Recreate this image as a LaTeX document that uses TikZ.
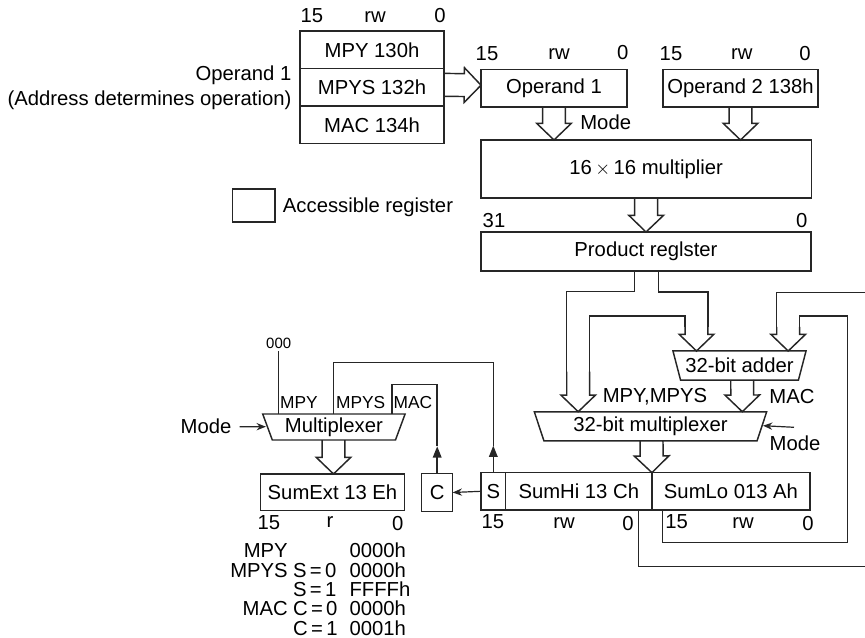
\documentclass[tikz,border=0pt]{standalone}
\usepackage{fontspec}
\setmainfont{Liberation Sans}
\usetikzlibrary{arrows.meta,calc,shapes.geometric}
\newcommand{\busarrow}[2]{%
  \coordinate (bs) at (#1);
  \coordinate (be) at (#2);
  \coordinate (bh) at ($(be)!12.5pt!(bs)$);
  \draw[wire] ($(bs)!8.6pt!90:(be)$) -- ($(bh)!8.6pt!-90:(bs)$) -- ($(bh)!13pt!-90:(bs)$) -- (be)
    -- ($(bh)!13pt!90:(bs)$) -- ($(bh)!8.6pt!90:(bs)$) -- ($(bs)!8.6pt!-90:(be)$);
}
\begin{document}
\begin{tikzpicture}[
  x=0.75pt, y=-0.75pt,
  font=\fontsize{15.2}{17}\selectfont,
  wire/.style={draw=black!85, line width=1.1pt},
  reg/.style={draw=black!85, line width=1.1pt, inner sep=0pt, outer sep=0pt, minimum height=28.1pt},
  tag/.style={inner sep=0pt},
  mpxr/.style={trapezium, shape border rotate=180, draw=black!85, line width=1.1pt, inner sep=0pt, outer sep=0pt,
               trapezium stretches body=true, trapezium left angle=63, trapezium right angle=63, minimum height=21.8pt},
  uparrow/.style={wire, -{Triangle[length=8.5pt,width=6.5pt]}},
  modearrow/.style={wire, line width=0.9pt, -{Stealth[length=7pt,width=5.5pt]}}
]
\useasboundingbox (0,0) rectangle (865,638);
\node[reg, minimum width=108pt] (mpy) at (372,49.9) {MPY 130h};
\node[reg, minimum width=108pt] (mpys) at (372,87.4) {MPYS 132h};
\node[reg, minimum width=108pt] (mac) at (372,125) {MAC 134h};
\node[tag] (t1) at (312,16) {15};
\node[tag] (t2) at (375,17) {rw};
\node[tag] (t3) at (440,16) {0};
\node[tag, align=right, anchor=east, font=\fontsize{15.2}{19}\selectfont] (opnote) at (291.7,88) {Operand 1\\(Address determines operation)};
\node[reg, minimum width=109.5pt] (op1) at (554,88.2) {Operand 1};
\node[tag] (t4) at (487,54) {15};
\node[tag] (t5) at (559,54) {rw};
\node[tag] (t6) at (622.7,53) {0};
\node[reg, minimum width=116.2pt] (op2) at (740.5,88.2) {Operand 2 138h};
\node[tag] (t7) at (671,54) {15};
\node[tag] (t8) at (741.7,54) {rw};
\node[tag] (t9) at (805,54) {0};
\node[tag] (modeop) at (605.7,122) {Mode};
\node[reg, minimum width=247.9pt, minimum height=43.5pt] (mult) at (646.2,169) {16\,$\times$\,16 multiplier};
\node[reg, minimum width=247.5pt, minimum height=29.2pt] (prod) at (646,251.5) {Product reglster};
\node[tag] (t10) at (494,221) {31};
\node[tag] (t11) at (801.7,221) {0};
\node[reg, minimum width=31.7pt, minimum height=24.7pt] (legend) at (253.8,205.5) {};
\node[tag, anchor=west] (legendtext) at (282.7,207) {Accessible register};
\busarrow{$(mpys.east)+(0,-2.5)$}{$(op1.west)+(0,-3)$}
\busarrow{op1.south}{op1.south |- mult.north}
\busarrow{op2.south}{op2.south |- mult.north}
\busarrow{mult.south}{prod.north}
\node[mpxr, minimum width=99.8pt] (adder) at (739.5,365.5) {32-bit adder};
\node[mpxr, minimum width=174.3pt] (mux) at (650.5,426.3) {32-bit multiplexer};
\node[mpxr, minimum width=106.8pt, minimum height=19.5pt] (muxl) at (333.9,427) {Multiplexer};
\node[reg, minimum width=18.5pt, minimum height=28pt] (sbit) at (493.3,491.3) {S};
\node[reg, minimum width=109.7pt, minimum height=28pt] (sumhi) at (578.8,491.3) {SumHi 13 Ch};
\node[reg, minimum width=118.5pt, minimum height=28pt] (sumlo) at (731,491.3) {SumLo 013 Ah};
\node[reg, minimum width=107.7pt, minimum height=27.5pt] (sumext) at (332.5,492.3) {SumExt 13 Eh};
\node[reg, minimum width=23.2pt, minimum height=28.8pt] (cbit) at (437.2,492.5) {C};
\node[tag] (t12) at (493,522) {15};
\node[tag] (t13) at (564,523) {rw};
\node[tag] (t14) at (628,524) {0};
\node[tag] (t15) at (676.7,522) {15};
\node[tag] (t16) at (743,523) {rw};
\node[tag] (t17) at (808,524) {0};
\node[tag] (t18) at (269,522.7) {15};
\node[tag] (t19) at (330,522) {r};
\node[tag] (t20) at (397.7,524) {0};
\node[tag] (mpylab) at (655,396.7) {MPY,MPYS};
\node[tag] (maclab) at (792,397) {MAC};
\node[tag] (modemux) at (795,443) {Mode};
\node[tag] (modesel) at (206,426) {Mode};
\node[tag, font=\fontsize{13}{15}\selectfont] (inmpy) at (299,402.7) {MPY};
\node[tag, font=\fontsize{13}{15}\selectfont] (inmpys) at (360.7,402.7) {MPYS};
\node[tag, font=\fontsize{13}{15}\selectfont] (inmac) at (413,402.7) {MAC};
\node[tag, font=\fontsize{11.2}{13}\selectfont, inner sep=2pt] (zeros) at (278.7,343) {000};
\node[tag, anchor=north west, font=\fontsize{15.2}{14.6}\selectfont] (modes) at (230,543) {%
  \begin{tabular}{@{}r@{\hspace{4pt}}l@{\hspace{9pt}}l@{}}
  MPY & & 0000h\\[-0.9pt]
  MPYS & S\,=\,0 & 0000h\\[-0.9pt]
  & S\,=\,1 & FFFFh\\[-0.9pt]
  MAC & C\,=\,0 & 0000h\\[-0.9pt]
  & C\,=\,1 & 0001h
  \end{tabular}};
\coordinate (muxtip) at ($(mux.center)+(-72.3,-14.6)$);
\coordinate (muxtop) at ($(muxtip)+(0,-40)$);
\coordinate (addtipa) at ($(adder.center)+(-43,-14.5)$);
\coordinate (addtopa) at ($(addtipa)+(0,-24)$);
\coordinate (addtipb) at ($(adder.center)+(48.7,-14.5)$);
\coordinate (addtopb) at ($(addtipb)+(0,-24)$);
\coordinate (muxlout) at ($(muxl.center)+(-0.4,13)$);
\busarrow{muxtop}{muxtip}
\busarrow{addtopa}{addtipa}
\busarrow{addtopb}{addtipb}
\busarrow{$(adder.center)+(2.7,14.5)$}{$(mux.center)+(91.8,-14.6)$}
\busarrow{$(mux.center)+(1,14.6)$}{sumhi.north east}
\busarrow{muxlout}{muxlout |- sumext.north}
\draw[wire] ($(prod.south)+(-11.4,0)$) -- ++(0,20.5) -| ($(muxtop)+(-11.5,0)$);
\draw[wire] ($(prod.south)+(12.7,0)$) -- ++(0,21) -| ($(addtopa)+(11.5,0)$);
\draw[wire] ($(addtopa)+(-11.5,0)$) -- ++(0,-11) -| ($(muxtop)+(11.5,0)$);
\draw[wire] ($(addtopb)+(-11.5,0)$) -- ++(0,-34.3) -- ++(90,0);
\draw[wire] ($(addtopb)+(11.5,0)$) -- ++(0,-11) -- ++(48,0) |- ($(sumlo.south west)+(10.7,32.5)$) -- ($(sumlo.south west)+(10.7,0)$);
\draw[wire] ($(sumhi.south east)+(-13.7,0)$) -- ++(0,56.5) -- ++(230,0);
\coordinate (cup) at ($(cbit.north)+(0,-27)$);
\coordinate (sup) at ($(sbit.north)+(0,-27)$);
\draw[uparrow] (cbit.north) -- (cup);
\draw[uparrow] (sbit.north) -- (sup);
\draw[wire] (cup) -- ++(0,-62) -| ($(muxl.center)+(58,-13)$);
\draw[wire] (sup) -- ++(0,-83) -| ($(muxl.center)+(-0.6,-13)$);
\draw[wire] ($(muxl.center)+(-55.2,-13)$) -- (zeros.south);
\draw[modearrow] (sbit.west) -- (cbit.east);
\draw[modearrow] ($(modesel.east)+(8,0.7)$) -- ($(muxl.center)+(-68,-0.3)$);
\draw[modearrow] ($(modemux.north)+(-1,-8)$) -- ($(mux.center)+(112.5,-0.6)$);
\end{tikzpicture}
\end{document}
